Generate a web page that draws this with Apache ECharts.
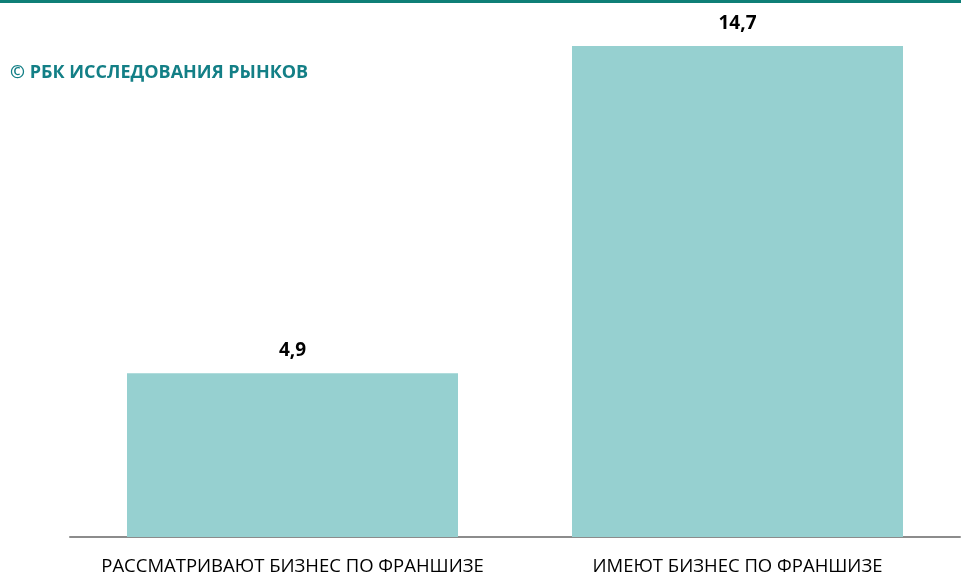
<!DOCTYPE html>
<html><head><meta charset="utf-8">
<script src="https://cdn.jsdelivr.net/npm/echarts@6/dist/echarts.min.js"></script>
<style>html,body{margin:0;padding:0;background:#fff}#c{width:961px;height:576px}</style>
</head><body><div id="c"></div>
<script>
const categories = ["РАССМАТРИВАЮТ БИЗНЕС ПО ФРАНШИЗЕ", "ИМЕЮТ БИЗНЕС ПО ФРАНШИЗЕ"];
const values = [4.9, 14.7];
const titleText = "© РБК ИССЛЕДОВАНИЯ РЫНКОВ";

const chart = echarts.init(document.getElementById('c'), null, {renderer: 'canvas'});
chart.setOption({
  backgroundColor: '#fff',
  animation: false,
  title: {
    text: titleText, left: 5, top: 59,
    textStyle: {color: '#137f86', fontSize: 18, fontWeight: 'bold', fontFamily: 'Open Sans'}
  },
  graphic: [{type: 'rect', shape: {x: 0, y: 0, width: 961, height: 3}, style: {fill: '#0e7f77'}}],
  grid: {left: 70, right: 1, top: 36, bottom: 39},
  xAxis: {
    type: 'category', data: categories,
    axisLine: {lineStyle: {color: '#8c8c8c', width: 2}},
    axisTick: {show: false},
    axisLabel: {color: '#000', fontSize: 18.5, fontFamily: 'Open Sans', margin: 20, interval: 0, hideOverlap: false}
  },
  yAxis: {type: 'value', min: 0, max: 15, show: false, splitLine: {show: false}},
  series: [{
    type: 'bar', data: values, barWidth: 331,
    itemStyle: {color: '#96d0d0'},
    label: {
      show: true, position: 'top', distance: 13,
      formatter: p => String(p.value).replace('.', ','),
      color: '#000', fontSize: 19, fontWeight: 'bold', fontFamily: 'Open Sans'
    }
  }]
});
</script></body></html>
